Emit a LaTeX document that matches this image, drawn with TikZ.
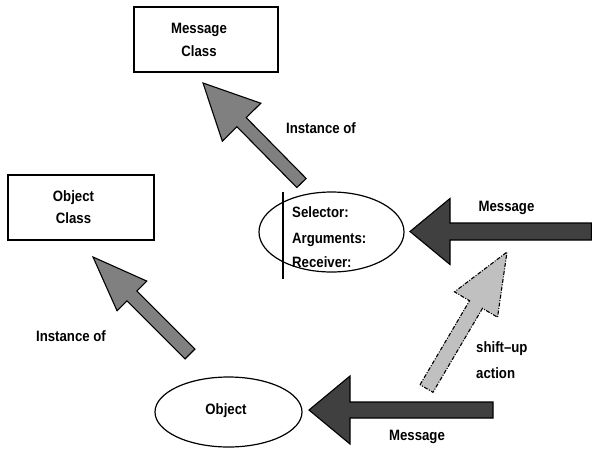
\documentclass[tikz,border=0pt]{standalone}
\usepackage{fontspec}
\setmainfont{Liberation Sans}[FakeStretch=0.88]
\usetikzlibrary{calc}

% Block arrow: #1 style, #2 tail, #3 tip, #4 half shaft width,
% #5 half head width, #6 head length
\newcommand\blockarrow[6]{%
  \coordinate (ba-base) at ($(#3)!#6!(#2)$);
  \path[#1] ($(#2)!#4!90:(#3)$) -- ($(ba-base)!#4!90:(#3)$)
    -- ($(ba-base)!#5!90:(#3)$) -- (#3) -- ($(ba-base)!#5!-90:(#3)$)
    -- ($(ba-base)!#4!-90:(#3)$) -- ($(#2)!#4!-90:(#3)$) -- cycle;
}

\definecolor{midgray}{RGB}{128,128,128}
\definecolor{darkgray}{RGB}{64,64,64}
\definecolor{lightgray}{RGB}{192,192,192}

\tikzset{
  lbl/.style={font=\fontsize{15}{18}\selectfont\bfseries, inner sep=0pt},
  classbox/.style={draw, line width=1.4pt, inner sep=0pt},
  oval/.style={draw, ellipse, line width=1.2pt, inner sep=0pt},
  instarrow/.style={draw, line width=1.1pt, fill=midgray, line join=miter},
  msgarrow/.style={draw, line width=1.1pt, fill=darkgray, line join=miter},
  shiftarrow/.style={draw, line width=1.1pt, fill=lightgray,
    dash pattern=on 4pt off 1.5pt on 1pt off 1.5pt},
}

\begin{document}
\begin{tikzpicture}[x=1pt, y=-1pt]
\useasboundingbox (0,0) rectangle (592,448);

% class boxes
\node[classbox, minimum width=144pt, minimum height=65pt] (msgclass) at (206,39.5) {};
\node[lbl, align=center] (msgclasstxt) at (199,39.5) {Message\\[5pt]Class};
\node[classbox, minimum width=146pt, minimum height=65pt] (objclass) at (81,207.5) {};
\node[lbl, align=center] (objclasstxt) at (73.5,207.5) {Object\\[4pt]Class};

% message object
\draw[line width=1.2pt] (331.5,232) ellipse [x radius=72.5pt, y radius=40pt];
\coordinate (msgobj) at (331.5,232);
\coordinate (bartop) at (283,192);
\coordinate (barbot) at (283,279);
\draw[line width=1.2pt] (bartop) -- (barbot);
\node[lbl, anchor=base west] (sel) at (292,217) {Selector:};
\node[lbl, anchor=base west] (args) at (292,243) {Arguments:};
\node[lbl, anchor=base west] (recv) at (292,267) {Receiver:};

% plain object
\draw[line width=1.2pt] (228.5,412) ellipse [x radius=73.5pt, y radius=35pt];
\node[lbl] (obj) at (226,411) {Object};

% instance-of arrows
\coordinate (i1tail) at (301.5,183);
\coordinate (i1tip) at (203,83);
\blockarrow{instarrow}{i1tail}{i1tip}{6.5pt}{27pt}{55pt}
\node[lbl] (inst1) at (321,128) {Instance of};

\coordinate (i2tail) at (190,354);
\coordinate (i2tip) at (93,257);
\blockarrow{instarrow}{i2tail}{i2tip}{7pt}{21pt}{55pt}
\node[lbl] (inst2) at (71,336) {Instance of};

% message arrows
\coordinate (m1tail) at (591.5,231.5);
\coordinate (m1tip) at (410,231.5);
\blockarrow{msgarrow}{m1tail}{m1tip}{8.5pt}{33pt}{40pt}
\node[lbl] (msg1) at (506.5,208) {Message};

\coordinate (m2tail) at (493,410);
\coordinate (m2tip) at (309,410);
\blockarrow{msgarrow}{m2tail}{m2tip}{8pt}{34pt}{41pt}
\node[lbl] (msg2) at (417,437) {Message};

% shift-up arrow
\coordinate (s1tail) at (426.5,388.5);
\coordinate (s1tip) at (507,252);
\blockarrow{shiftarrow}{s1tail}{s1tip}{7.5pt}{25pt}{61pt}
\node[lbl, anchor=west] (shift) at (476,349) {shift--up};
\node[lbl, anchor=west] (action) at (476,373) {action};
\end{tikzpicture}
\end{document}
